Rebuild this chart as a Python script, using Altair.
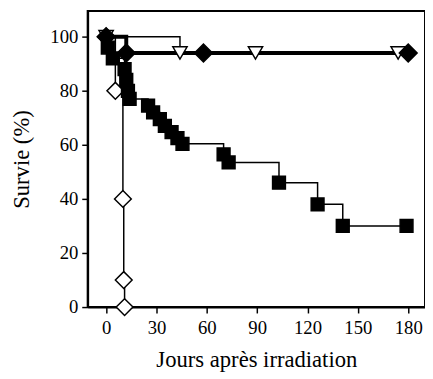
import altair as alt
import pandas as pd

# Filled squares (declining survival)
sq_days = [1, 4, 11, 12, 13, 14, 25, 28, 32, 35, 39, 42.5, 45.5, 70, 73, 103, 126, 141, 179]
sq_surv = [96, 92, 88, 84, 80, 77, 74.5, 72, 69.5, 67, 64.7, 62.5, 60.4, 56.5, 53.5, 46, 38, 30, 30]

# Filled diamonds
fd_days = [0, 12, 58, 180]
fd_surv = [100, 94, 94, 94]

# Open triangles
tri_days = [0, 44, 89, 174]
tri_surv = [100, 94, 94, 94]

# Open diamonds
od_days = [0, 5.5, 10, 10.5, 11]
od_surv = [100, 80, 40, 10, 0]

x_ticks = [0, 30, 60, 90, 120, 150, 180]
y_ticks = [0, 20, 40, 60, 80, 100]

def df(d, s):
    return pd.DataFrame({"jour": d, "survie": s})

xs = alt.Scale(domain=[-11, 190], nice=False, zero=False)
ys = alt.Scale(domain=[0, 109.5], nice=False, zero=False)

X = alt.X("jour:Q", scale=xs,
          axis=alt.Axis(values=x_ticks, title="Jours après irradiation", grid=False))
Y = alt.Y("survie:Q", scale=ys,
          axis=alt.Axis(values=y_ticks, title="Survie (%)", grid=False))

def line(d, s, w):
    return alt.Chart(df(d, s)).mark_line(interpolate="step-after", color="black",
                                         strokeWidth=w).encode(x=X, y=Y)

def pts(d, s, shape, size, filled):
    return alt.Chart(df(d, s)).mark_point(
        shape=shape, size=size, filled=True,
        fill="black" if filled else "white", stroke="black",
        strokeWidth=1.5, opacity=1).encode(x=X, y=Y)

chart = alt.layer(
    line(od_days, od_surv, 1.5),
    line(sq_days, sq_surv, 1.5),
    line(tri_days, tri_surv, 1.5),
    line(fd_days, fd_surv, 4),
    pts(od_days, od_surv, "diamond", 290, False),
    pts(sq_days, sq_surv, "square", 170, True),
    pts(tri_days, tri_surv, "triangle-down", 210, False),
    pts(fd_days, fd_surv, "diamond", 330, True),
).properties(
    width=343, height=301,
    autosize=alt.AutoSizeParams(type="none"),
    padding={"left": 81, "top": 0, "right": 0, "bottom": 67},
).configure_view(
    stroke="black", strokeWidth=2
).configure_axis(
    labelFont="Liberation Serif", titleFont="Liberation Serif",
    labelFontSize=19, titleFontSize=23, titleFontWeight="normal",
    labelColor="black", titleColor="black",
    domainColor="black", tickColor="black", domainWidth=2, tickWidth=1.5,
    tickSize=6, labelPadding=4,
).configure_axisX(
    titlePadding=11, labelPadding=6
).configure_axisY(
    titlePadding=17
)

chart.save("out.html", embed_options={"renderer": "svg", "actions": False})
